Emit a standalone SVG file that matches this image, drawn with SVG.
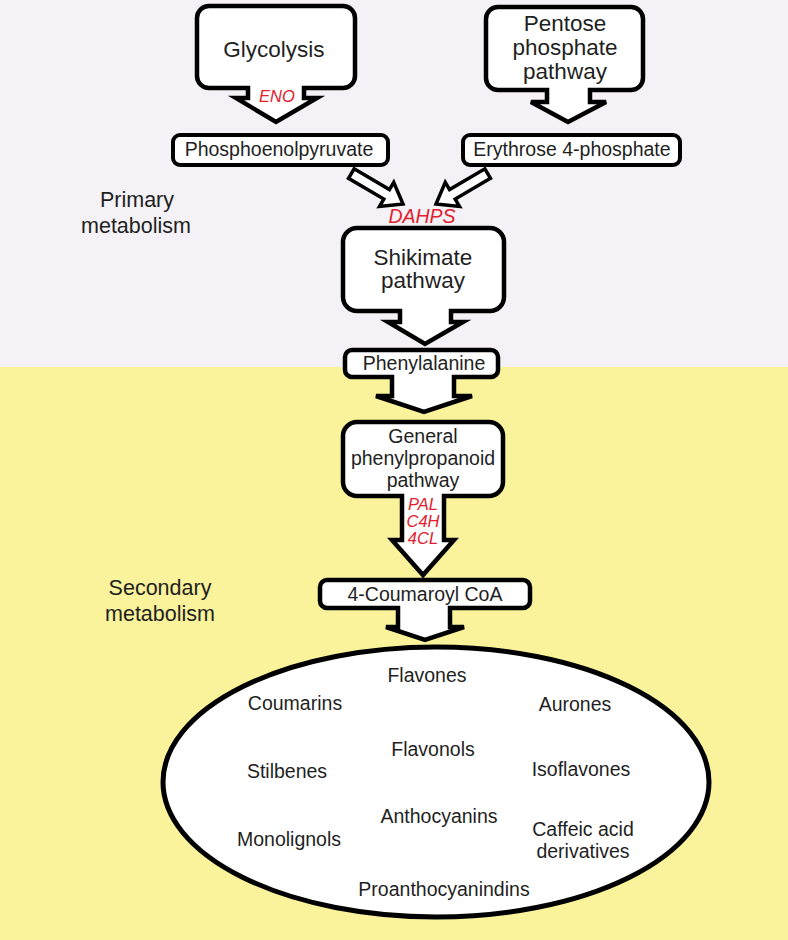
<svg xmlns="http://www.w3.org/2000/svg" width="788" height="940" viewBox="0 0 788 940">
<style>
.box{fill:#fff;stroke:#000;stroke-width:4.5;stroke-linejoin:miter}
.sbox{fill:#fff;stroke:#000;stroke-width:4}
.harrow{fill:#fff;stroke:#000;stroke-width:3.5;stroke-linejoin:miter}
text{font-family:"Liberation Sans",Arial,sans-serif;fill:#1f1f1f;text-anchor:middle}
.big{font-size:22.5px}
.mid{font-size:19.5px}
.lbl{font-size:21.5px}
.enz{fill:#e3202e;font-style:italic}
</style>
<rect x="0" y="0" width="788" height="367" fill="#f4f2f6"/>
<rect x="0" y="367" width="788" height="573" fill="#faf39b"/>

<g id="primary-label">
<text class="lbl" x="137" y="207">Primary</text>
<text class="lbl" x="136" y="233">metabolism</text>
</g>
<g id="secondary-label">
<text class="lbl" x="160" y="595">Secondary</text>
<text class="lbl" x="160" y="621">metabolism</text>
</g>

<g id="glycolysis">
<path class="box" d="M209,6 H343 A12 12 0 0 1 355,18 V76 A12 12 0 0 1 343,88 H304 V98 H317 L276,122 L236,98 H248 V88 H209 A12 12 0 0 1 197,76 V18 A12 12 0 0 1 209,6 Z"/>
<text class="big" x="274" y="57">Glycolysis</text>
<text class="enz" x="277" y="102" font-size="16.5">ENO</text>
</g>

<g id="pentose">
<path class="box" d="M498,7 H631 A12 12 0 0 1 643,19 V78 A12 12 0 0 1 631,90 H590 V102 H606 L568,122 L531,102 H547 V90 H498 A12 12 0 0 1 486,78 V19 A12 12 0 0 1 498,7 Z"/>
<text class="big" x="565" y="31">Pentose</text>
<text class="big" x="565" y="55">phosphate</text>
<text class="big" x="565" y="79">pathway</text>
</g>

<g id="pep">
<rect class="sbox" x="173" y="135" width="215" height="30" rx="7"/>
<text class="mid" x="279" y="156">Phosphoenolpyruvate</text>
</g>

<g id="e4p">
<rect class="sbox" x="463" y="135" width="217" height="30" rx="7"/>
<text class="mid" x="572" y="156">Erythrose 4-phosphate</text>
</g>

<g id="connectors">
<polygon class="harrow" transform="translate(403,204) rotate(30.5)" points="-60,-5.5 -19,-5.5 -19,-14 0,0 -19,14 -19,5.5 -60,5.5"/>
<polygon class="harrow" transform="translate(436,204) rotate(149.5)" points="-60,-5.5 -19,-5.5 -19,-14 0,0 -19,14 -19,5.5 -60,5.5"/>
</g>

<g id="dahps">
<text class="enz" x="422" y="223" font-size="19.5">DAHPS</text>
</g>

<g id="shikimate">
<path class="box" d="M357,228 H490 A14 14 0 0 1 504,242 V297 A14 14 0 0 1 490,311 H451 V322 H463 L425,344 L388,322 H400 V311 H357 A14 14 0 0 1 343,297 V242 A14 14 0 0 1 357,228 Z"/>
<text class="big" x="423" y="265">Shikimate</text>
<text class="big" x="423" y="288">pathway</text>
</g>

<g id="phenylalanine">
<path class="box" d="M352,350 H491 A7 7 0 0 1 498,357 V370 A7 7 0 0 1 491,377 H454 V396 H472 L424,412 L376,396 H392 V377 H352 A7 7 0 0 1 345,370 V357 A7 7 0 0 1 352,350 Z"/>
<text class="mid" x="424" y="370">Phenylalanine</text>
</g>

<g id="general">
<path class="box" d="M357,422 H489 A14 14 0 0 1 503,436 V482 A14 14 0 0 1 489,496 H444 V540 H454 L423,575 L392,540 H402 V496 H357 A14 14 0 0 1 343,482 V436 A14 14 0 0 1 357,422 Z"/>
<text class="mid" x="423" y="443" font-size="20">General</text>
<text class="mid" x="423" y="465" font-size="20">phenylpropanoid</text>
<text class="mid" x="423" y="487" font-size="20">pathway</text>
<text class="enz" x="423" y="510" font-size="16.5">PAL</text>
<text class="enz" x="423" y="527" font-size="16.5">C4H</text>
<text class="enz" x="423" y="544" font-size="16.5">4CL</text>
</g>

<g id="coumaroyl">
<path class="box" d="M327,580 H523 A7 7 0 0 1 530,587 V601 A7 7 0 0 1 523,608 H450 V627 H464 L425,640 L386,627 H398 V608 H327 A7 7 0 0 1 320,601 V587 A7 7 0 0 1 327,580 Z"/>
<text class="mid" x="425" y="601">4-Coumaroyl CoA</text>
</g>

<g id="products">
<ellipse cx="436" cy="782" rx="273" ry="135" fill="#fff" stroke="#000" stroke-width="5"/>
<text class="mid" x="427" y="682">Flavones</text>
<text class="mid" x="295" y="710">Coumarins</text>
<text class="mid" x="575" y="711">Aurones</text>
<text class="mid" x="433" y="756">Flavonols</text>
<text class="mid" x="287" y="778">Stilbenes</text>
<text class="mid" x="581" y="776">Isoflavones</text>
<text class="mid" x="439" y="823">Anthocyanins</text>
<text class="mid" x="289" y="846">Monolignols</text>
<text class="mid" x="583" y="836">Caffeic acid</text>
<text class="mid" x="583" y="858">derivatives</text>
<text class="mid" x="444" y="896">Proanthocyanindins</text>
</g>
</svg>
